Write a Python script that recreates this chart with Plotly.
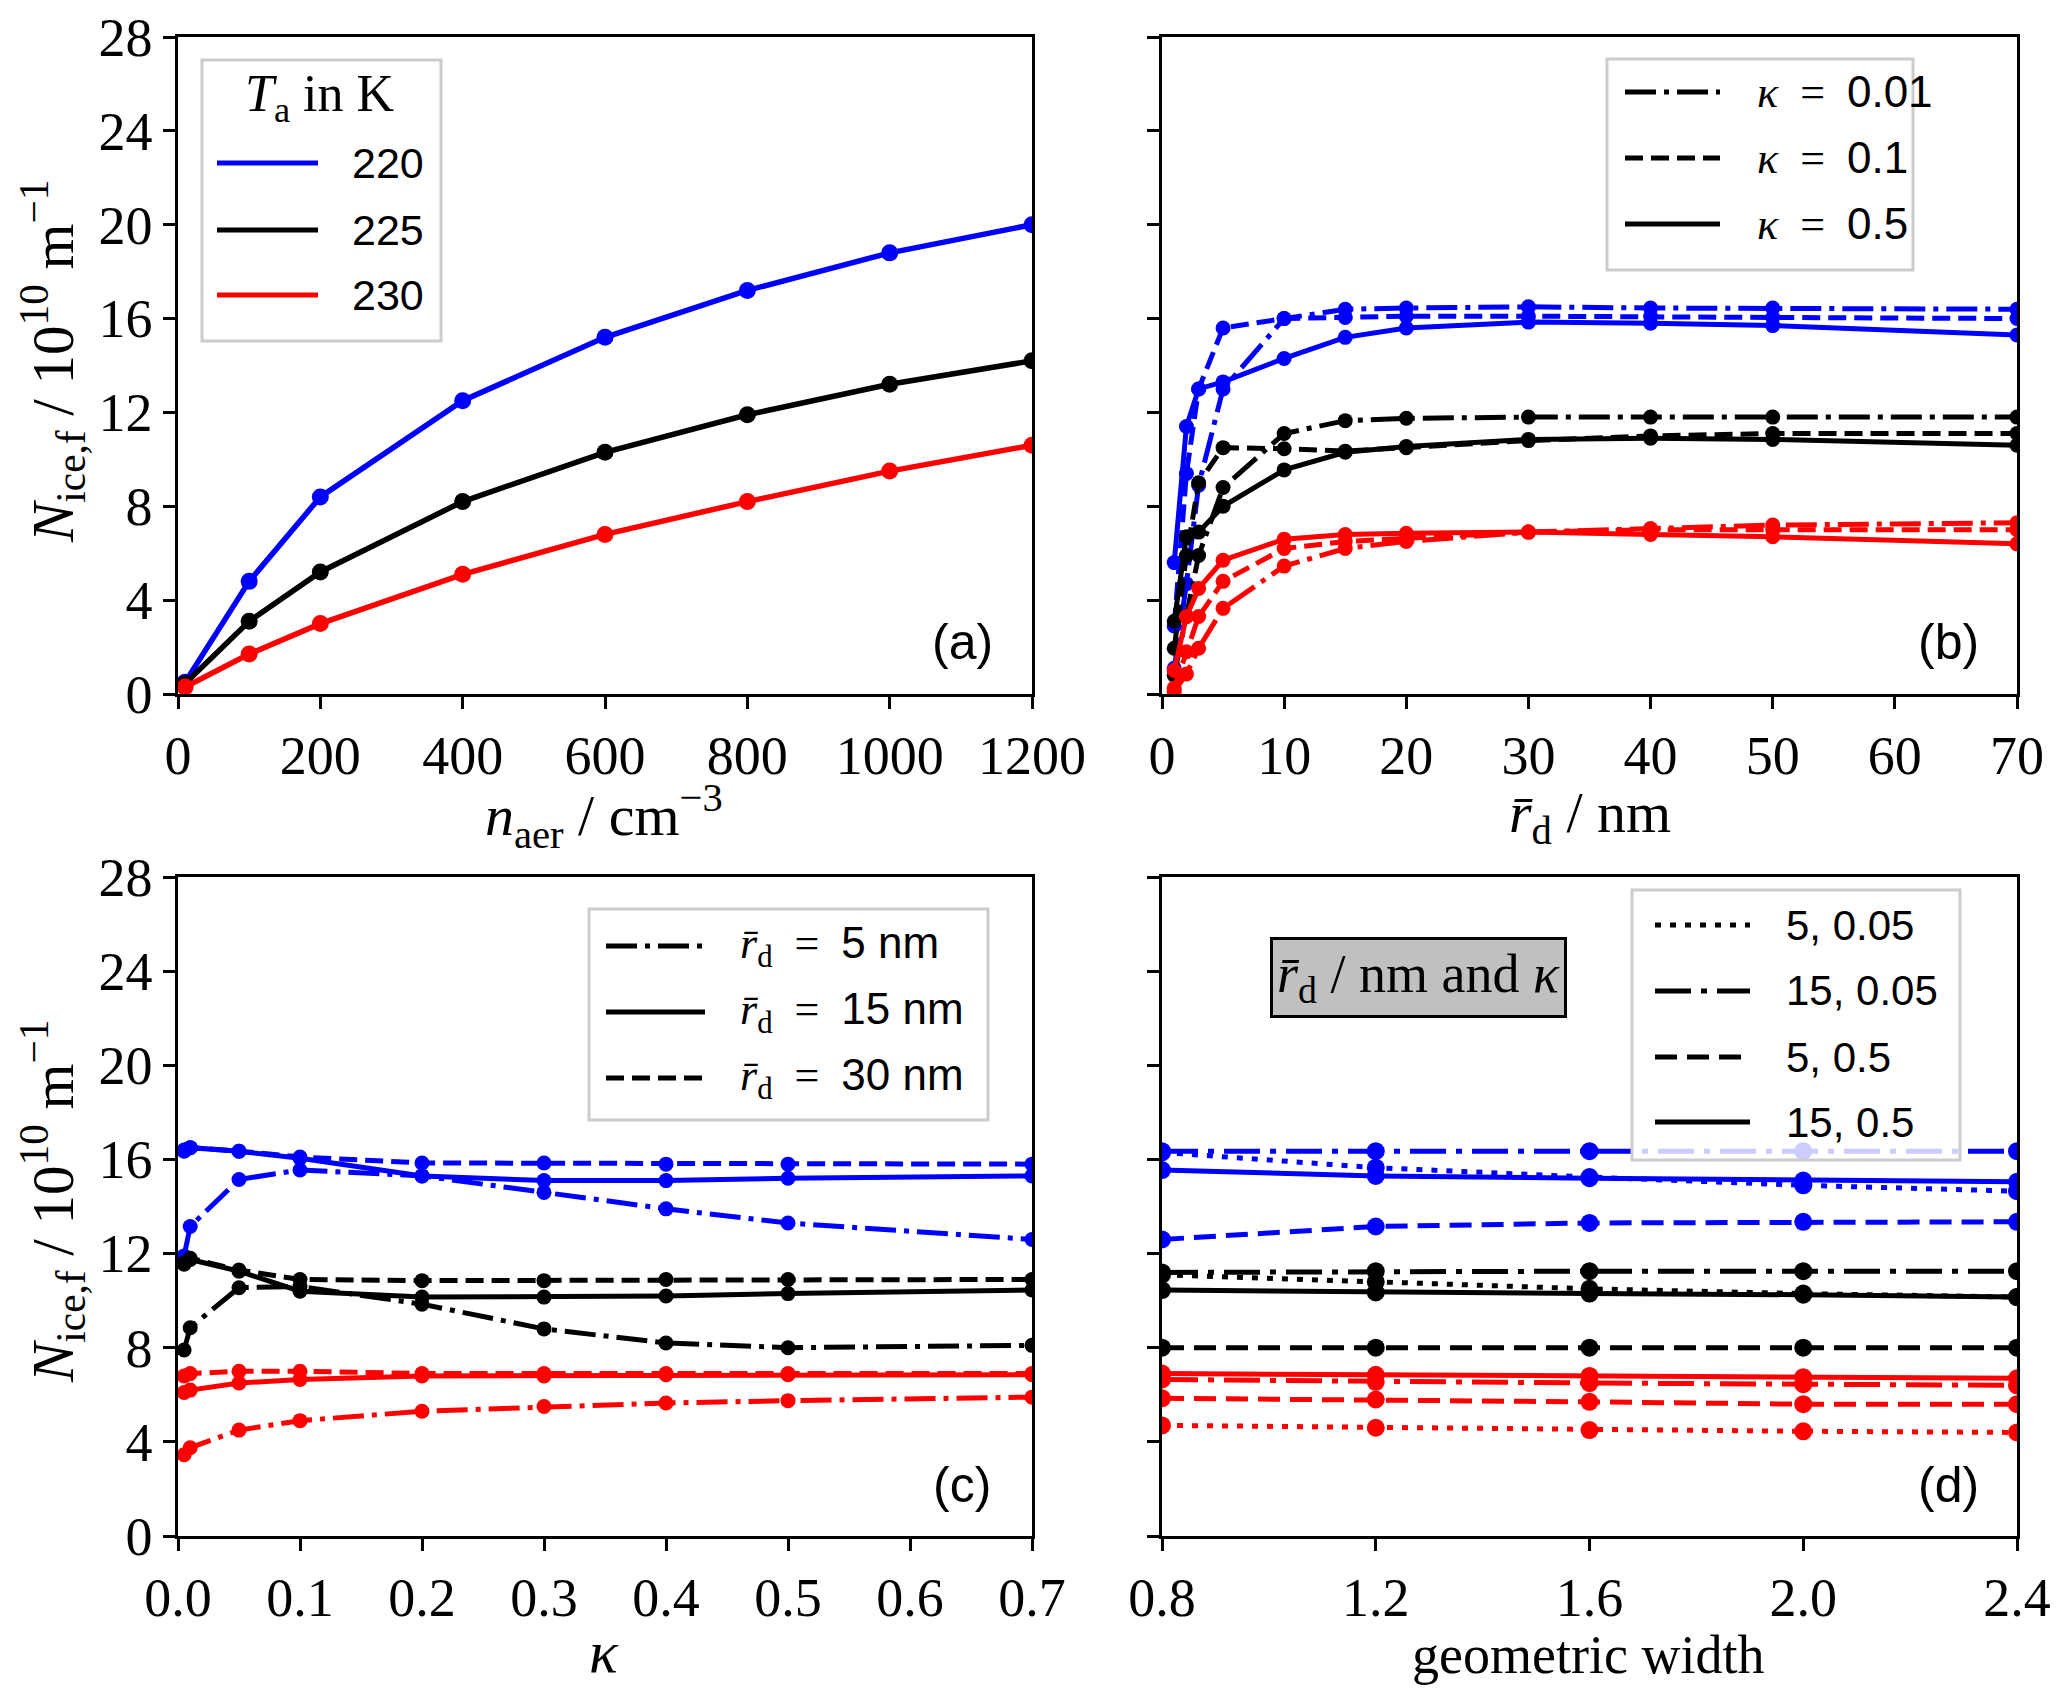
import plotly.graph_objects as go
from plotly.subplots import make_subplots

# page body has an 8px margin, so the figure is drawn a bit smaller and shifted
W, H = 2067, 1699
PAGE_PAD = 8
FW, FH = W - 2 * PAGE_PAD, H - 2 * PAGE_PAD

BLUE, BLACK, RED = "#0000ff", "#000000", "#ff0000"

# ---- panel (a): aerosol number concentration
n_aer = [10, 100, 200, 400, 600, 800, 1000, 1200]
temps = ["220", "225", "230"]
a_220 = [0.5, 4.8, 8.4, 12.5, 15.2, 17.2, 18.8, 20.0]
a_225 = [0.45, 3.1, 5.2, 8.2, 10.3, 11.9, 13.2, 14.2]
a_230 = [0.3, 1.7, 3.0, 5.1, 6.8, 8.2, 9.5, 10.6]

# ---- panel (b): mean dry radius, three kappas
r_d = [1, 2, 3, 5, 10, 15, 20, 30, 40, 50, 70]
kappa_labels = ["0.01", "0.1", "0.5"]
b_220_k001 = [1.1, 4.7, 8.9, 13.0, 16.0, 16.4, 16.45, 16.5, 16.45, 16.45, 16.4]
b_220_k01 = [2.9, 9.4, 13.0, 15.6, 16.0, 16.05, 16.1, 16.1, 16.1, 16.05, 16.0]
b_220_k05 = [5.6, 11.4, 13.0, 13.3, 14.3, 15.2, 15.6, 15.85, 15.8, 15.7, 15.3]
b_225_k001 = [0.8, 3.3, 5.9, 8.8, 11.1, 11.65, 11.75, 11.8, 11.8, 11.8, 11.8]
b_225_k01 = [1.95, 5.9, 9.0, 10.5, 10.45, 10.35, 10.5, 10.8, 11.0, 11.1, 11.1]
b_225_k05 = [3.1, 6.7, 6.9, 8.0, 9.55, 10.3, 10.55, 10.85, 10.9, 10.85, 10.6]
b_230_k001 = [0.1, 0.85, 1.95, 3.65, 5.45, 6.2, 6.5, 6.9, 7.05, 7.2, 7.3]
b_230_k01 = [0.25, 1.8, 3.3, 4.8, 6.2, 6.5, 6.65, 6.9, 7.0, 7.0, 7.0]
b_230_k05 = [1.0, 3.3, 4.5, 5.7, 6.6, 6.8, 6.85, 6.9, 6.8, 6.7, 6.4]

# ---- panel (c): kappa, three radii
kappa = [0.005, 0.01, 0.05, 0.1, 0.2, 0.3, 0.4, 0.5, 0.7]
radius_labels = ["5", "15", "30"]
c_220_r5 = [11.9, 13.15, 15.15, 15.55, 15.3, 14.6, 13.9, 13.3, 12.6]
c_220_r15 = [16.35, 16.5, 16.35, 16.05, 15.3, 15.1, 15.1, 15.2, 15.3]
c_220_r30 = [16.4, 16.5, 16.35, 16.1, 15.85, 15.85, 15.8, 15.8, 15.8]
c_225_r5 = [7.9, 8.85, 10.55, 10.6, 9.85, 8.8, 8.2, 8.0, 8.1]
c_225_r15 = [11.6, 11.75, 11.25, 10.4, 10.15, 10.15, 10.2, 10.3, 10.45]
c_225_r30 = [11.55, 11.8, 11.3, 10.9, 10.85, 10.85, 10.9, 10.9, 10.9]
c_230_r5 = [3.45, 3.75, 4.5, 4.9, 5.3, 5.5, 5.65, 5.75, 5.9]
c_230_r15 = [6.1, 6.2, 6.5, 6.65, 6.8, 6.8, 6.85, 6.85, 6.85]
c_230_r30 = [6.8, 6.9, 7.0, 7.0, 6.9, 6.9, 6.9, 6.9, 6.9]

# ---- panel (d): geometric width, radius/kappa combos
geo_width = [0.8, 1.2, 1.6, 2.0, 2.4]
combo_labels = ["5, 0.05", "15, 0.05", "5, 0.5", "15, 0.5"]
d_220_5_005 = [16.3, 15.65, 15.25, 14.9, 14.65]
d_220_15_005 = [16.35, 16.35, 16.35, 16.35, 16.35]
d_220_5_05 = [12.6, 13.15, 13.3, 13.35, 13.35]
d_220_15_05 = [15.55, 15.3, 15.2, 15.1, 15.05]
d_225_5_005 = [11.1, 10.8, 10.5, 10.3, 10.15]
d_225_15_005 = [11.2, 11.25, 11.25, 11.25, 11.25]
d_225_5_05 = [8.0, 8.0, 8.0, 8.0, 8.0]
d_225_15_05 = [10.45, 10.35, 10.3, 10.25, 10.15]
d_230_5_005 = [4.7, 4.6, 4.5, 4.45, 4.4]
d_230_15_005 = [6.65, 6.55, 6.5, 6.45, 6.4]
d_230_5_05 = [5.85, 5.8, 5.7, 5.6, 5.6]
d_230_15_05 = [6.9, 6.85, 6.8, 6.75, 6.7]

SERIF = "Liberation Serif, DejaVu Serif, serif"
SANS = "Liberation Sans, DejaVu Sans, sans-serif"

# matplotlib-like dash patterns
DASH = "18px,8px"
DASHDOT = "31px,8px,5px,8px"
D_DASH = "22px,10px"
D_DASHDOT = "36px,10px,6px,10px"
D_DOT = "6px,9px"


def fx(px):
    return (px - PAGE_PAD) / FW


def fy(py):
    return 1 - (py - PAGE_PAD) / FH


def sans(s):
    return '<span style="font-family:Liberation Sans, DejaVu Sans">' + s + "</span>"


fig = make_subplots(rows=2, cols=2)


def add_line(row, col, x, y, color, dash="solid", width=5, msize=15):
    fig.add_trace(
        go.Scatter(
            x=x, y=y, mode="lines+markers",
            line=dict(color=color, width=width, dash=dash),
            marker=dict(color=color, size=msize),
            showlegend=False,
        ),
        row=row, col=col,
    )


# (a)
for ys, c in zip([a_220, a_225, a_230], [BLUE, BLACK, RED]):
    add_line(1, 1, n_aer, ys, c, width=5.5, msize=17)

# (b)
for c, series in [
    (BLUE, [b_220_k001, b_220_k01, b_220_k05]),
    (BLACK, [b_225_k001, b_225_k01, b_225_k05]),
    (RED, [b_230_k001, b_230_k01, b_230_k05]),
]:
    for ys, dash in zip(series, [DASHDOT, DASH, "solid"]):
        add_line(1, 2, r_d, ys, c, dash=dash)

# (c)
for c, series in [
    (BLUE, [c_220_r5, c_220_r15, c_220_r30]),
    (BLACK, [c_225_r5, c_225_r15, c_225_r30]),
    (RED, [c_230_r5, c_230_r15, c_230_r30]),
]:
    for ys, dash in zip(series, [DASHDOT, "solid", DASH]):
        add_line(2, 1, kappa, ys, c, dash=dash)

# (d)
for c, series in [
    (BLUE, [d_220_5_005, d_220_15_005, d_220_5_05, d_220_15_05]),
    (BLACK, [d_225_5_005, d_225_15_005, d_225_5_05, d_225_15_05]),
    (RED, [d_230_5_005, d_230_15_005, d_230_5_05, d_230_15_05]),
]:
    for ys, dash in zip(series, [D_DOT, D_DASHDOT, D_DASH, "solid"]):
        add_line(2, 2, geo_width, ys, c, dash=dash, width=5, msize=18)

# panel geometry in pixels (of the 2067x1699 page)
xa = [fx(178), fx(1032)]
xb = [fx(1162), fx(2017)]
y_top = [fy(694), fy(37)]
y_bot = [fy(1536), fy(877)]

axis_common = dict(
    showline=True, linecolor="black", linewidth=2.5, mirror=True,
    ticks="outside", ticklen=12, tickwidth=2.5, tickcolor="black",
    showgrid=False, zeroline=False, automargin=False,
    ticklabeloverflow="allow",
    tickfont=dict(family=SERIF, size=54, color="black"),
)

fig.update_layout(
    width=FW, height=FH,
    margin=dict(l=0, r=0, t=0, b=0, autoexpand=False),
    paper_bgcolor="white", plot_bgcolor="white",
    showlegend=False,
    xaxis=dict(domain=xa, range=[0, 1200], dtick=200, **axis_common),
    yaxis=dict(domain=y_top, range=[0, 28], dtick=4, **axis_common),
    xaxis2=dict(domain=xb, range=[0, 70], dtick=10, **axis_common),
    yaxis2=dict(domain=y_top, range=[0, 28], dtick=4, showticklabels=False, **axis_common),
    xaxis3=dict(domain=xa, range=[0, 0.7], dtick=0.1, tickformat=".1f", **axis_common),
    yaxis3=dict(domain=y_bot, range=[0, 28], dtick=4, **axis_common),
    xaxis4=dict(domain=xb, range=[0.8, 2.4], tickvals=geo_width, tickformat=".1f", **axis_common),
    yaxis4=dict(domain=y_bot, range=[0, 28], dtick=4, showticklabels=False, **axis_common),
)


def text(x, y, s, size, family=SERIF, angle=0, xanchor="center", **kw):
    fig.add_annotation(
        x=fx(x), y=fy(y), xref="paper", yref="paper", text=s, showarrow=False,
        font=dict(family=family, size=size, color="black"),
        textangle=angle, xanchor=xanchor, yanchor="middle", **kw,
    )


# axis titles
ytitle = "<i>N</i><sub>ice,f</sub> / 10<sup>10</sup> m<sup>\u22121</sup>"
text(52, 362, ytitle, 59, angle=-90)
text(52, 1202, ytitle, 59, angle=-90)
text(604, 816, "<i>n</i><sub>aer</sub> / cm<sup>\u22123</sup>", 58)
text(1590, 816, "<i>r\u0304</i><sub>d</sub> / nm", 58)
text(604, 1652, "<i>\u03ba</i>", 60)
text(1588, 1655, "geometric width", 54)

# panel labels
for lab, (x, y) in zip(["(a)", "(b)", "(c)", "(d)"],
                       [(962, 642), (1948, 642), (962, 1485), (1948, 1485)]):
    text(x, y, lab, 50, family=SANS)


def legend_box(x0, y0, x1, y1):
    fig.add_shape(
        type="rect", xref="paper", yref="paper",
        x0=fx(x0), x1=fx(x1), y0=fy(y1), y1=fy(y0),
        line=dict(color="#cccccc", width=3), fillcolor="rgba(255,255,255,0.8)",
        layer="above",
    )


def legend_entry(x0, x1, y, xt, color, dash, label, size=42, family=SANS, width=5):
    fig.add_shape(
        type="line", xref="paper", yref="paper",
        x0=fx(x0), x1=fx(x1), y0=fy(y), y1=fy(y),
        line=dict(color=color, width=width, dash=dash), layer="above",
    )
    text(xt, y, label, size, family=family, xanchor="left")


EQ = "\u2002=\u2002"

# legend (a)
legend_box(202, 60, 441, 341)
text(320, 97, "<i>T</i><sub>a</sub> in K", 52)
for t, c, y in zip(temps, [BLUE, BLACK, RED], [163, 230, 295]):
    legend_entry(217, 318, y, 350, c, "solid", t, size=43)

# legend (b)
legend_box(1607, 59, 1913, 270)
for k, dash, y in zip(kappa_labels, [DASHDOT, DASH, "solid"], [92, 158, 224]):
    legend_entry(1625, 1720, y, 1755, BLACK, dash,
                 "<i>\u03ba</i>" + EQ + sans(k), size=44, family=SERIF)

# legend (c)
legend_box(589, 909, 988, 1120)
for r, dash, y in zip(radius_labels, [DASHDOT, "solid", DASH], [946, 1012, 1078]):
    legend_entry(606, 705, y, 738, BLACK, dash,
                 "<i>r\u0304</i><sub>d</sub>" + EQ + sans(r + " nm"), size=44, family=SERIF)

# legend (d)
legend_box(1632, 890, 1960, 1160)
for lab, dash, y in zip(combo_labels, [D_DOT, D_DASHDOT, D_DASH, "solid"], [925, 991, 1057, 1122]):
    legend_entry(1655, 1750, y, 1784, BLACK, dash, lab, size=42)

# grey label box in (d)
fig.add_annotation(
    x=fx(1418), y=fy(977), xref="paper", yref="paper", showarrow=False,
    xanchor="center", yanchor="middle",
    text="<i>r\u0304</i><sub>d</sub> / nm and <i>\u03ba</i>",
    font=dict(family=SERIF, size=54, color="black"),
    bgcolor="#c0c0c0", bordercolor="black", borderwidth=3, borderpad=4,
)

fig.write_html("out.html")
